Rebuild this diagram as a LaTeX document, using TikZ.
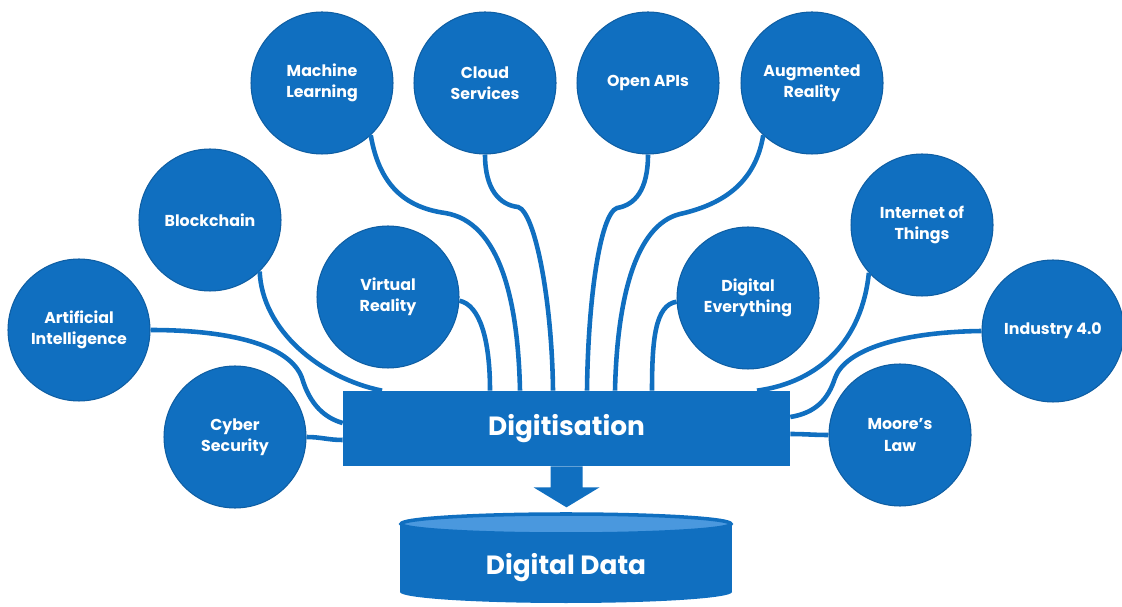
\documentclass[tikz,border=0pt]{standalone}
\usepackage{fontspec}
\setmainfont{Poppins}
\usepackage{tikz}
\usetikzlibrary{positioning}

\definecolor{dblue}{RGB}{16,111,192}
\definecolor{topblue}{RGB}{74,152,222}

\begin{document}
\begin{tikzpicture}[x=0.02cm, y=-0.02cm,
    bubble/.style={circle, fill=dblue, draw=dblue!85!black, line width=0.6pt, minimum size=2.84cm,
                   text=white, align=center, font=\fontsize{9}{12}\selectfont\bfseries},
    link/.style={draw=dblue, line width=2.6pt}]
  \useasboundingbox (0,0) rectangle (1122,607);

  % Burbujas
  \node[bubble] (ml) at (322,83) {Machine\\Learning};
  \node[bubble] (cloud) at (485,83) {Cloud\\Services};
  \node[bubble] (api) at (648,83) {Open APIs};
  \node[bubble] (ar) at (812,83) {Augmented\\Reality};
  \node[bubble] (chain) at (210,220) {Blockchain};
  \node[bubble] (vr) at (388,297) {Virtual\\Reality};
  \node[bubble] (de) at (748,298) {Digital\\Everything};
  \node[bubble] (iot) at (922,225) {Internet of\\Things};
  \node[bubble] (ai) at (79,330) {Artificial\\Intelligence};
  \node[bubble] (cyber) at (235,437) {Cyber\\Security};
  \node[bubble] (ind) at (1053,331) {Industry 4.0};
  \node[bubble] (moore) at (900,435) {Moore's\\Law};

  % Caja central
  \node[fill=dblue, minimum width=8.94cm, minimum height=1.5cm, text=white,
        font=\fontsize{15}{18}\selectfont\bfseries] (digi) at (566.5,428.5) {Digitisation};

  % Conexiones
  \draw[link] (ml.-47) .. controls (380,190) and (410,208) .. (445,213)
                       .. controls (500,222) and (518,300) .. (digi.north -| 520,0);
  \draw[link] (cloud.south) .. controls (485,190) and (500,205) .. (518,207)
                            .. controls (535,212) and (552,300) .. (digi.north -| 553,0);
  \draw[link] (api.south) .. controls (648,190) and (635,205) .. (617,208)
                          .. controls (600,214) and (588,300) .. (digi.north -| 587,0);
  \draw[link] (ar.-133) .. controls (755,185) and (720,205) .. (680,214)
                        .. controls (635,225) and (617,300) .. (digi.north -| 615,0);
  \draw[link] (vr.-3) .. controls (480,305) and (490,340) .. (digi.north -| 490,0);
  \draw[link] (de.183) .. controls (655,305) and (652,340) .. (digi.north -| 652,0);
  \draw[link] (chain.-46) .. controls (262,330) and (320,378) .. (digi.north -| 382,0);
  \draw[link] (iot.-138) .. controls (862,340) and (820,382) .. (digi.north -| 757,0);
  \draw[link] (ai.east) .. controls (230,330) and (290,345) .. (302,378)
                        .. controls (310,405) and (325,418) .. (digi.west |- 0,423);
  \draw[link] (cyber.east) to[out=0,in=180] (digi.west |- 0,440);
  \draw[link] (ind.west) .. controls (900,332) and (845,350) .. (835,378)
                         .. controls (828,400) and (815,413) .. (digi.east |- 0,417);
  \draw[link] (moore.west) to[out=180,in=0] (digi.east |- 0,434);

  % Flecha hacia la base de datos
  \fill[dblue] (digi.south) ++(-16,0) -- ++(0,21) -- ++(-17,0) -- ++(33,20)
               -- ++(33,-20) -- ++(-17,0) -- ++(0,-21) -- cycle;

  % Base de datos
  \fill[dblue] (400,524) rectangle (732,592);
  \fill[dblue] (566,592) ellipse[x radius=166, y radius=11];
  \filldraw[fill=topblue, draw=dblue, line width=2pt] (566,524) ellipse[x radius=165, y radius=10];
  \node[text=white, font=\fontsize{15}{18}\selectfont\bfseries] (data) at (566,568) {Digital Data};
\end{tikzpicture}
\end{document}
